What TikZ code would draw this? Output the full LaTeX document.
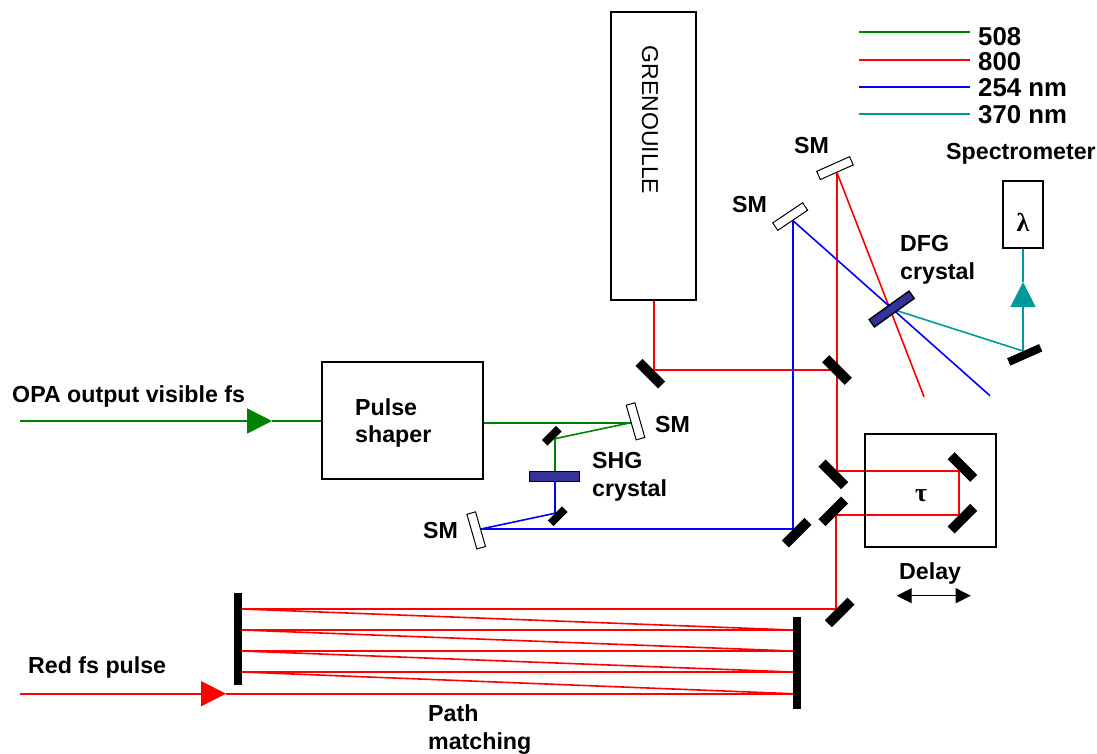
\documentclass[tikz,border=0pt]{standalone}
\usepackage{fontspec}
\setmainfont{Liberation Sans}
\newfontfamily\greekfont{Liberation Serif}
\usetikzlibrary{arrows.meta,backgrounds}
\definecolor{gbeam}{RGB}{0,128,0}
\definecolor{tbeam}{RGB}{0,153,153}
\definecolor{crystalblue}{RGB}{51,51,153}
\tikzset{
  mirror/.style={draw=none, fill=black, rectangle, inner sep=0pt, minimum width=32, minimum height=10, anchor=north},
  smallmirror/.style={mirror, minimum width=20, minimum height=8},
  sphere/.style={draw=black, line width=1pt, fill=white, rectangle, inner sep=0pt, minimum width=36, minimum height=9, anchor=north},
  crystal/.style={draw=black, line width=1.4pt, fill=crystalblue, rectangle, inner sep=0pt},
  box/.style={draw=black, line width=1.4pt, rectangle, inner sep=0pt},
  lab/.style={font=\fontsize{23.2}{27.5}\selectfont\bfseries, inner sep=0pt, anchor=base west},
  multilab/.style={font=\fontsize{23.2}{27.5}\selectfont\bfseries, inner sep=0pt, anchor=west, align=left},
  tipbig/.style={-{Triangle[length=25pt,width=25pt]}}
}
\begin{document}
\begin{tikzpicture}[x=1pt,y=-1pt]
  \useasboundingbox (0,0) rectangle (1097,753);
  \draw
    (653.5,156) node[box, minimum width=85, minimum height=288] (gren){}
    (650,120) node[font=\fontsize{23}{27}\selectfont, rotate=-90, inner sep=0pt] (grentext){GRENOUILLE}
    (402.5,420.5) node[box, minimum width=161, minimum height=117] (shaper){}
    (355,423) node[multilab] (shapertext){Pulse\\shaper}
    (930.5,490.5) node[box, minimum width=131, minimum height=113] (delay){}
    (921,496) node[font=\fontsize{26}{30}\selectfont\greekfont\bfseries, inner sep=0pt] (tau){τ}
    (1023,214.5) node[box, minimum width=40, minimum height=67] (spec){}
    (1023,222) node[font=\fontsize{26}{30}\selectfont\greekfont\bfseries, inner sep=0pt] (lam){λ}
    (654,370) node[mirror, rotate=-45] (mgren){}
    (837,370) node[mirror, rotate=-45, anchor=center] (msplit){}
    (837,470.7) node[mirror, rotate=-45] (mup){}
    (837,515) node[mirror, rotate=-135] (mlow){}
    (958.7,470.7) node[mirror, rotate=135] (dup){}
    (958.7,515) node[mirror, rotate=45] (dlow){}
    (793,529) node[mirror, rotate=45] (mblue){}
    (836,608.7) node[mirror, rotate=45] (mred){}
    (1023,351) node[mirror, rotate=24, minimum width=35, minimum height=8] (mteal){}
    (554.7,438.7) node[smallmirror, rotate=-135] (mgreen){}
    (554.7,513.3) node[smallmirror, rotate=45] (mshg){}
    (238,639.3) node[mirror, minimum width=8, minimum height=92, anchor=center] (pathl){}
    (797,662.7) node[mirror, minimum width=8, minimum height=92, anchor=center] (pathr){}
    (630.7,422.7) node[sphere, rotate=106] (smg){}
    (481,529) node[sphere, rotate=-74] (smb){}
    (793,220.7) node[sphere, rotate=-146] (smu){}
    (837,172.7) node[sphere, rotate=-156] (smr){}
    (554.7,476.3) node[crystal, minimum width=50, minimum height=10] (shg){}
    (891.7,309) node[crystal, rotate=35.6, minimum width=49, minimum height=9] (dfg){}
    (12,402) node[lab] (opa){OPA output visible fs}
    (28,673) node[lab] (redlab){Red fs pulse}
    (794,153) node[lab] (smlab1){SM}
    (732,212) node[lab] (smlab2){SM}
    (655,432) node[lab] (smlab3){SM}
    (423,538) node[lab] (smlab4){SM}
    (946,159) node[lab] (speclab){Spectrometer}
    (899,579) node[lab] (delaylab){Delay}
    (592,477) node[multilab] (shglab){SHG\\crystal}
    (900,260) node[multilab] (dfglab){DFG\\crystal}
    (428,729.5) node[multilab] (pathlab){Path\\matching};
  \coordinate (gstart) at (20,421);
  \coordinate (gtip) at (272,421);
  \coordinate (rstart) at (20,693.7);
  \coordinate (rtip) at (226,693.7);
  \coordinate (ttip) at (1023,282);
  \coordinate (rend) at (924,396.7);
  \coordinate (bend) at (990,395.7);
  \coordinate (da) at (896.7,595.7);
  \coordinate (db) at (970.7,595.7);
  \begin{scope}[on background layer={line width=1.6pt}]
    \begin{scope}[red]
      \draw (rtip) -- (pathr.west |- rtip);
      \draw[tipbig] (rstart) -- (rtip);
      \foreach \y/\z in {672/693.7, 651/672, 630/651, 609/630} {
        \draw (pathl.east |- 0,\y) -- (pathr.west |- 0,\z);
      }
      \foreach \y in {672, 651, 630} {
        \draw (pathl.east |- 0,\y) -- (pathr.west |- 0,\y);
      }
      \draw (pathl.east |- mred.north) -- (mred.north);
      \draw (mred.north) -- (mred.north |- mlow.north) -- (mlow.north);
      \draw (mlow.north) -- (dlow.north);
      \draw (dlow.north) -- (dup.north);
      \draw (dup.north) -- (mup.north);
      \draw (mup.north) -- (smr.north);
      \draw (msplit.center) -- (mgren.north);
      \draw (mgren.north) -- (mgren.north |- gren.south);
      \draw (smr.north) -- (rend);
    \end{scope}
    \begin{scope}[gbeam]
      \draw[tipbig] (gstart) -- (gtip);
      \draw (gtip) -- (shaper.west |- gtip);
      \draw (shaper.east |- smg.north) -- (smg.north);
      \draw (smg.north) -- (mgreen.north);
      \draw (mgreen.north) -- (shg.center);
    \end{scope}
    \begin{scope}[blue]
      \draw (shg.center) -- (mshg.north);
      \draw (mshg.north) -- (smb.north);
      \draw (smb.north) -- (mblue.north);
      \draw (mblue.north) -- (smu.north);
      \draw (smu.north) -- (bend);
    \end{scope}
    \begin{scope}[tbeam]
      \draw (dfg.center) -- (mteal.north);
      \draw[tipbig] (mteal.north) -- (ttip);
      \draw (ttip) -- (spec.south);
    \end{scope}
  \end{scope}
  \draw[line width=1.2pt, {Triangle[length=15pt,width=15pt]}-{Triangle[length=15pt,width=15pt]}] (da) -- (db);
  \foreach \nm/\col/\y/\ty/\txt in {a/gbeam/32/45/508, b/red/60/70/800, c/blue/87/96/254 nm, d/tbeam/114/123/370 nm} {
    \coordinate (leg\nm) at (859,\y);
    \node[font=\fontsize{25.8}{30}\selectfont\bfseries, inner sep=0pt, anchor=base west] (text\nm) at (978,\ty) {\txt};
    \draw[\col, line width=1.2pt] (leg\nm) -- (970,\y);
  }
\end{tikzpicture}
\end{document}
